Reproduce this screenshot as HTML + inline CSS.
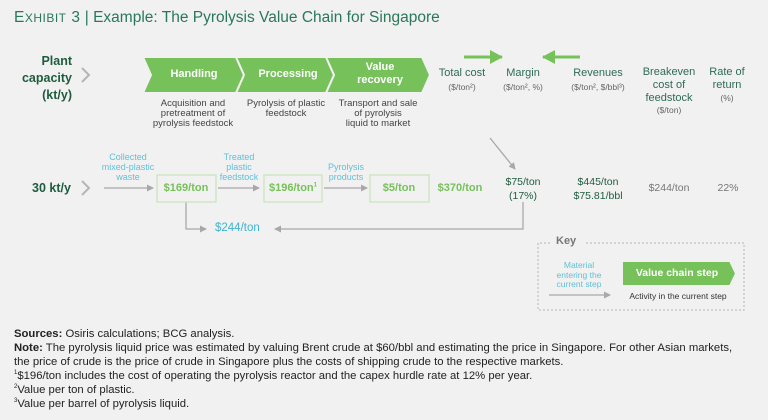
<!DOCTYPE html>
<html><head><meta charset="utf-8"><style>
html,body{margin:0;padding:0;background:#f1f1f1;}
body{width:768px;height:420px;overflow:hidden;position:relative;font-family:"Liberation Sans",sans-serif;}
.t{position:absolute;white-space:nowrap;}
.c{transform:translateX(-50%);text-align:center;}
.fn{position:absolute;left:14px;font-family:"Liberation Sans Narrow","Liberation Sans",sans-serif;font-size:11.3px;color:#222;white-space:nowrap;}
</style></head><body>
<div class="t" style="left:14px;top:9px;font-size:15.5px;color:#29785a;"><span style="font-size:15.5px;letter-spacing:0.5px">E<span style="font-size:12px">XHIBIT</span> 3</span> | Example: The Pyrolysis Value Chain for Singapore</div>

<svg width="768" height="420" style="position:absolute;left:0;top:0">
<defs><marker id="ah" markerWidth="8" markerHeight="8" refX="6" refY="4" orient="auto" markerUnits="userSpaceOnUse"><path d="M0,0.5 L7,4 L0,7.5z" fill="#a8a8a8"/></marker>
<marker id="ga" markerWidth="14" markerHeight="14" refX="12" refY="7" orient="auto" markerUnits="userSpaceOnUse"><path d="M0,0 L13,7 L0,14z" fill="#77c15a"/></marker></defs>
<g fill="#77c15a" stroke="#f1f1f1" stroke-width="2">
<polygon points="143,57 236,57 244,75 236,93 143,93 151,75"/>
<polygon points="236,57 326,57 334,75 326,93 236,93 244,75"/>
<polygon points="326,57 422,57 430,75 422,93 326,93 334,75"/>
<polygon points="622,261 730,261 736,273.5 730,286 622,286"/>
</g>
<path d="M82,68 L89,75 L82,82" fill="none" stroke="#b5b5b5" stroke-width="2"/>
<path d="M82,181 L89,188 L82,195" fill="none" stroke="#b5b5b5" stroke-width="2"/>
<line x1="464" y1="57" x2="502" y2="57" stroke="#77c15a" stroke-width="3" marker-end="url(#ga)"/>
<line x1="580" y1="57" x2="543" y2="57" stroke="#77c15a" stroke-width="3" marker-end="url(#ga)"/>
<g stroke="#a8a8a8" stroke-width="1.3" fill="none">
<line x1="104" y1="188" x2="153" y2="188" marker-end="url(#ah)"/>
<line x1="218" y1="188" x2="259" y2="188" marker-end="url(#ah)"/>
<line x1="324" y1="188" x2="367" y2="188" marker-end="url(#ah)"/>
<polyline points="186,202 186,229 206,229" marker-end="url(#ah)"/>
<polyline points="523,202 523,229 275,229" marker-end="url(#ah)"/>
<line x1="490" y1="138" x2="515" y2="169" marker-end="url(#ah)"/>
<line x1="549" y1="295" x2="610" y2="295" marker-end="url(#ah)"/>
</g>
<g fill="none" stroke="#c9e5bd" stroke-width="1.3">
<rect x="157" y="175" width="59" height="27"/>
<rect x="264" y="175" width="58" height="27"/>
<rect x="370" y="175" width="59" height="27"/>
</g>
<path d="M550,243 L538,243 L538,310 L744,310 L744,243 L586,243" fill="none" stroke="#b5b5b5" stroke-width="1" stroke-dasharray="2,2"/>
</svg>

<div class="t" style="right:696px;top:53px;font-size:12.5px;font-weight:bold;color:#1e5c3e;text-align:right;line-height:17px;">Plant<br>capacity<br>(kt/y)</div>
<div class="t c" style="left:194px;top:68px;font-size:11px;font-weight:bold;color:#fff;">Handling</div>
<div class="t c" style="left:288px;top:68px;font-size:11px;font-weight:bold;color:#fff;">Processing</div>
<div class="t c" style="left:380px;top:61px;font-size:11px;font-weight:bold;color:#fff;line-height:13px;">Value<br>recovery</div>
<div class="t c" style="left:193px;top:99px;font-size:9.5px;color:#444;line-height:10px;">Acquisition and<br>pretreatment of<br>pyrolysis feedstock</div>
<div class="t c" style="left:286px;top:99px;font-size:9.5px;color:#444;line-height:10px;">Pyrolysis of plastic<br>feedstock</div>
<div class="t c" style="left:378px;top:99px;font-size:9.5px;color:#444;line-height:10px;">Transport and sale<br>of pyrolysis<br>liquid to market</div>

<div class="t c" style="left:462px;top:66px;font-size:11px;color:#2f6b55;line-height:14px;">Total cost<br><span style="font-size:8.5px;color:#666">($/ton²)</span></div>
<div class="t c" style="left:523px;top:66px;font-size:11px;color:#2f6b55;line-height:14px;">Margin<br><span style="font-size:8.5px;color:#666">($/ton², %)</span></div>
<div class="t c" style="left:598px;top:66px;font-size:11px;color:#2f6b55;line-height:14px;">Revenues<br><span style="font-size:8.5px;color:#666">($/ton², $/bbl³)</span></div>
<div class="t c" style="left:669px;top:66px;font-size:11px;color:#2f6b55;line-height:12.8px;">Breakeven<br>cost of<br>feedstock<br><span style="font-size:8.5px;color:#666">($/ton)</span></div>
<div class="t c" style="left:727px;top:66px;font-size:11px;color:#2f6b55;line-height:12.8px;">Rate of<br>return<br><span style="font-size:8.5px;color:#666">(%)</span></div>

<div class="t" style="left:32px;top:181px;font-size:12.5px;font-weight:bold;color:#1e5c3e;">30 kt/y</div>
<div class="t c" style="left:128px;top:152px;font-size:9px;color:#5fc0d8;line-height:10px;">Collected<br>mixed-plastic<br>waste</div>
<div class="t c" style="left:239px;top:152px;font-size:9px;color:#5fc0d8;line-height:10px;">Treated<br>plastic<br>feedstock</div>
<div class="t c" style="left:346px;top:162px;font-size:9px;color:#5fc0d8;line-height:10px;">Pyrolysis<br>products</div>
<div class="t c" style="left:186px;top:182px;font-size:11px;font-weight:bold;color:#77c15a;">$169/ton</div>
<div class="t c" style="left:293px;top:182px;font-size:11px;font-weight:bold;color:#77c15a;">$196/ton<sup style="font-size:6px">1</sup></div>
<div class="t c" style="left:399px;top:182px;font-size:11px;font-weight:bold;color:#77c15a;">$5/ton</div>
<div class="t c" style="left:460px;top:182px;font-size:11px;font-weight:bold;color:#77c15a;">$370/ton</div>
<div class="t c" style="left:523px;top:176px;font-size:10.5px;color:#1e5c3e;line-height:13.5px;">$75/ton<br>(17%)</div>
<div class="t c" style="left:598px;top:176px;font-size:10.5px;color:#1e5c3e;line-height:13.5px;">$445/ton<br>$75.81/bbl</div>
<div class="t c" style="left:669px;top:182px;font-size:10.5px;color:#777;">$244/ton</div>
<div class="t c" style="left:728px;top:182px;font-size:10.5px;color:#777;">22%</div>
<div class="t" style="left:215px;top:222px;font-size:11.5px;color:#3fb3d0;">$244/ton</div>

<div class="t" style="left:556px;top:235px;font-size:11px;font-weight:bold;color:#777;">Key</div>
<div class="t c" style="left:579px;top:261px;font-size:8.5px;color:#5fc0d8;line-height:9.5px;">Material<br>entering the<br>current step</div>
<div class="t c" style="left:677px;top:267px;font-size:10.5px;font-weight:bold;color:#fff;">Value chain step</div>
<div class="t c" style="left:678px;top:291px;font-size:8.5px;color:#333;">Activity in the current step</div>

<div class="fn" style="top:328px"><b>Sources:</b> Osiris calculations; BCG analysis.</div>
<div class="fn" style="top:342px"><b>Note:</b> The pyrolysis liquid price was estimated by valuing Brent crude at $60/bbl and estimating the price in Singapore. For other Asian markets,</div>
<div class="fn" style="top:356px">the price of crude is the price of crude in Singapore plus the costs of shipping crude to the respective markets.</div>
<div class="fn" style="top:370px"><sup style="font-size:6px">1</sup>$196/ton includes the cost of operating the pyrolysis reactor and the capex hurdle rate at 12% per year.</div>
<div class="fn" style="top:384px"><sup style="font-size:6px">2</sup>Value per ton of plastic.</div>
<div class="fn" style="top:398px"><sup style="font-size:6px">3</sup>Value per barrel of pyrolysis liquid.</div>
</body></html>
